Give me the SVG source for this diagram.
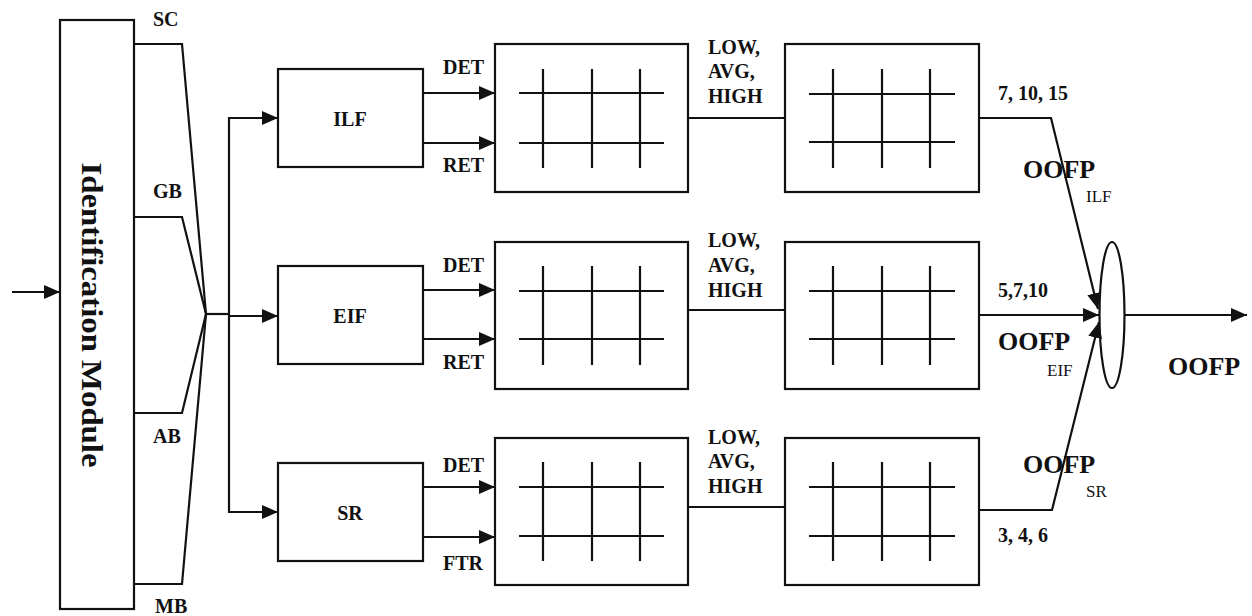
<svg xmlns="http://www.w3.org/2000/svg" width="1252" height="616" viewBox="0 0 1252 616">
  <defs>
    <marker id="arr" markerUnits="userSpaceOnUse" markerWidth="17" markerHeight="15" refX="16" refY="7" orient="auto">
      <path d="M0,0 L16,7 L0,14 Z" fill="#111"/>
    </marker>
    <style>
      .box { fill: #fff; stroke: #111; stroke-width: 2.2; }
      .ln { fill: none; stroke: #111; stroke-width: 2.2; }
      .grid { stroke: #111; stroke-width: 2.2; }
      .arrow { fill: none; stroke: #111; stroke-width: 2.2; marker-end: url(#arr); }
      .lbl { font-family: "Liberation Serif", "Times New Roman", serif; font-weight: bold; font-size: 20px; fill: #111; }
      .big { font-family: "Liberation Serif", "Times New Roman", serif; font-weight: bold; font-size: 26px; fill: #111; }
      .sub { font-family: "Liberation Serif", "Times New Roman", serif; font-size: 17px; fill: #111; }
      .title { font-family: "Liberation Serif", "Times New Roman", serif; font-weight: bold; font-size: 30px; fill: #111; }
    </style>
  </defs>
  <rect width="1252" height="616" fill="#fff"/>

  <!-- identification module -->
  <g id="identification-module">
    <rect class="box" x="60" y="20" width="74" height="589"/>
    <text class="title" transform="translate(82,315) rotate(90)" text-anchor="middle" textLength="305" lengthAdjust="spacingAndGlyphs">Identification Module</text>
  </g>

  <!-- category labels -->
  <g id="category-labels">
    <text class="lbl" x="153" y="26">SC</text>
    <text class="lbl" x="153" y="198">GB</text>
    <text class="lbl" x="153" y="443">AB</text>
    <text class="lbl" x="155" y="613">MB</text>
  </g>

  <!-- function type blocks -->
  <g id="ilf">
    <rect class="box" x="278" y="69" width="145" height="98"/>
    <text class="lbl" x="350" y="126" text-anchor="middle" font-size="22">ILF</text>
  </g>
  <g id="eif">
    <rect class="box" x="278" y="266" width="145" height="98"/>
    <text class="lbl" x="350" y="323" text-anchor="middle" font-size="22">EIF</text>
  </g>
  <g id="sr">
    <rect class="box" x="278" y="463" width="145" height="98"/>
    <text class="lbl" x="350" y="520" text-anchor="middle" font-size="22">SR</text>
  </g>

  <!-- complexity matrices (row 1) -->
  <g id="ilf-complexity">
    <rect class="box" x="495" y="44" width="193" height="148"/>
    <path class="grid" d="M519,93 H664 M519,143 H664 M543,69 V168 M592,69 V168 M640,69 V168"/>
  </g>
  <g id="ilf-weight">
    <rect class="box" x="785" y="44" width="194" height="148"/>
    <path class="grid" d="M809,94 H955 M809,142 H955 M833,69 V168 M882,69 V168 M930,69 V168"/>
  </g>
  <!-- complexity matrices (row 2) -->
  <g id="eif-complexity">
    <rect class="box" x="495" y="242" width="193" height="147"/>
    <path class="grid" d="M519,291 H664 M519,339 H664 M543,266 V365 M592,266 V365 M640,266 V365"/>
  </g>
  <g id="eif-weight">
    <rect class="box" x="785" y="242" width="194" height="147"/>
    <path class="grid" d="M809,291 H955 M809,339 H955 M833,266 V365 M882,266 V365 M930,266 V365"/>
  </g>
  <!-- complexity matrices (row 3) -->
  <g id="sr-complexity">
    <rect class="box" x="495" y="438" width="193" height="147"/>
    <path class="grid" d="M519,487 H664 M519,536 H664 M543,462 V561 M592,462 V561 M640,462 V561"/>
  </g>
  <g id="sr-weight">
    <rect class="box" x="785" y="438" width="194" height="147"/>
    <path class="grid" d="M809,487 H955 M809,536 H955 M833,462 V561 M882,462 V561 M930,462 V561"/>
  </g>

  <!-- summing junction -->
  <g id="sum">
    <ellipse class="box" cx="1112" cy="315" rx="12.5" ry="73"/>
  </g>

  <!-- connectors -->
  <g id="connectors">
    <line class="arrow" x1="12" y1="292" x2="60" y2="292"/>
    <polyline class="ln" points="134,44 182,44 206,314"/>
    <polyline class="ln" points="134,217 182,217 206,314"/>
    <polyline class="ln" points="134,413 182,413 206,314"/>
    <polyline class="ln" points="134,584 182,584 206,314"/>
    <line class="ln" x1="206" y1="314" x2="229" y2="314"/>
    <line class="ln" x1="229" y1="117" x2="229" y2="513"/>
    <line class="arrow" x1="228" y1="118" x2="278" y2="118"/>
    <line class="arrow" x1="229" y1="316" x2="278" y2="316"/>
    <line class="arrow" x1="228" y1="512" x2="278" y2="512"/>

    <line class="arrow" x1="423" y1="93" x2="495" y2="93"/>
    <line class="arrow" x1="423" y1="143" x2="495" y2="143"/>
    <line class="arrow" x1="423" y1="290" x2="495" y2="290"/>
    <line class="arrow" x1="423" y1="339" x2="495" y2="339"/>
    <line class="arrow" x1="423" y1="487" x2="495" y2="487"/>
    <line class="arrow" x1="423" y1="537" x2="495" y2="537"/>

    <line class="ln" x1="688" y1="118" x2="785" y2="118"/>
    <line class="ln" x1="688" y1="310" x2="785" y2="310"/>
    <line class="ln" x1="688" y1="507" x2="785" y2="507"/>

    <polyline class="arrow" points="979,118 1051,118 1098,309"/>
    <line class="arrow" x1="979" y1="315" x2="1099" y2="315"/>
    <polyline class="arrow" points="979,510 1052,510 1099,322"/>
    <line class="arrow" x1="1124" y1="315" x2="1247" y2="315"/>
  </g>

  <!-- connector labels -->
  <g id="connector-labels">
    <text class="lbl" x="443" y="74">DET</text>
    <text class="lbl" x="443" y="172">RET</text>
    <text class="lbl" x="443" y="272">DET</text>
    <text class="lbl" x="443" y="369">RET</text>
    <text class="lbl" x="443" y="472">DET</text>
    <text class="lbl" x="443" y="570">FTR</text>

    <text class="lbl" x="708" y="54">LOW,</text>
    <text class="lbl" x="708" y="78">AVG,</text>
    <text class="lbl" x="708" y="103">HIGH</text>
    <text class="lbl" x="708" y="247">LOW,</text>
    <text class="lbl" x="708" y="272">AVG,</text>
    <text class="lbl" x="708" y="297">HIGH</text>
    <text class="lbl" x="708" y="444">LOW,</text>
    <text class="lbl" x="708" y="468">AVG,</text>
    <text class="lbl" x="708" y="493">HIGH</text>

    <text class="lbl" x="998" y="100">7, 10, 15</text>
    <text class="lbl" x="998" y="297">5,7,10</text>
    <text class="lbl" x="998" y="542">3, 4, 6</text>

    <text class="big" x="1023" y="178">OOFP</text>
    <text class="sub" x="1086" y="202">ILF</text>
    <text class="big" x="998" y="350">OOFP</text>
    <text class="sub" x="1047" y="376">EIF</text>
    <text class="big" x="1023" y="473">OOFP</text>
    <text class="sub" x="1086" y="497">SR</text>
    <text class="big" x="1168" y="375">OOFP</text>
  </g>
</svg>
